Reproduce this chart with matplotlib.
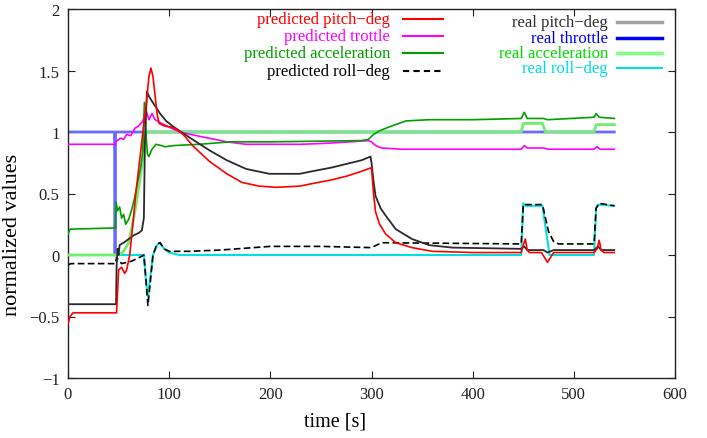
import matplotlib
matplotlib.use('Agg')
import matplotlib.pyplot as plt
from matplotlib.lines import Line2D

plt.rcParams['font.family'] = ['Liberation Serif', 'DejaVu Serif']

# (time [s], normalized value) pairs
pred_pitch = [(0, -0.56), (2, -0.5), (5, -0.47), (48, -0.47), (49, -0.3), (50, -0.12), (53, -0.1),
              (56, -0.15), (58, -0.12), (61, 0.0), (64, 0.24), (67, 0.5), (71, 0.78), (74, 1.0),
              (77, 1.2), (80, 1.45), (82, 1.52), (84, 1.45), (86, 1.3), (88, 1.15), (90, 1.07),
              (95, 1.05), (102, 1.04), (108, 1.02), (115, 0.97), (123, 0.89), (140, 0.76),
              (157, 0.66), (172, 0.59), (189, 0.56), (206, 0.55), (229, 0.56), (241, 0.58),
              (260, 0.61), (275, 0.64), (290, 0.68), (300, 0.71), (302, 0.5), (304, 0.35),
              (308, 0.25), (314, 0.17), (324, 0.1), (340, 0.06), (360, 0.03), (400, 0.02),
              (448, 0.02), (450, 0.08), (452, 0.13), (454, 0.04), (456, 0.02), (468, 0.02),
              (471, -0.02), (474, -0.06), (477, -0.02), (480, 0.02), (520, 0.02), (523, 0.05),
              (525, 0.12), (527, 0.04), (530, 0.02), (540, 0.02)]
pred_throttle = [(0, 0.9), (46.5, 0.9), (47, 0.92), (52, 0.95), (55, 0.94), (58, 0.98), (62, 0.97),
                 (66, 1.03), (70, 1.05), (74, 1.09), (77, 1.18), (80, 1.1), (83, 1.15), (86, 1.1),
                 (90, 1.08), (100, 1.04), (110, 1.0), (133, 0.96), (157, 0.92), (176, 0.9),
                 (230, 0.9), (260, 0.91), (297, 0.93), (300, 0.92), (304, 0.89), (310, 0.87),
                 (330, 0.86), (448, 0.86), (451, 0.89), (454, 0.87), (470, 0.87), (475, 0.86),
                 (520, 0.86), (523, 0.88), (526, 0.86), (540, 0.86)]
pred_accel = [(0, 0.17), (2, 0.21), (47, 0.22), (47.5, 0.43), (49, 0.36), (51, 0.39), (53, 0.3),
              (55, 0.33), (57, 0.25), (60, 0.29), (63, 0.37), (66, 0.47), (69, 0.6), (72, 0.72),
              (74, 0.85), (75.5, 1.24), (77, 1.0), (78.5, 0.82), (80, 0.8), (83, 0.86), (87, 0.9),
              (92, 0.89), (96, 0.88), (105, 0.89), (130, 0.9), (160, 0.92), (200, 0.92),
              (290, 0.93), (297, 0.94), (302, 0.98), (308, 1.01), (317, 1.04), (334, 1.09),
              (357, 1.1), (400, 1.1), (448, 1.11), (451, 1.16), (454, 1.11), (470, 1.11),
              (474, 1.1), (520, 1.12), (522, 1.15), (525, 1.12), (540, 1.11)]
pred_roll = [(0, -0.08), (3, -0.07), (47, -0.07), (48, -0.02), (50, -0.04), (53, -0.07), (58, -0.06),
             (63, -0.05), (68, -0.03), (73, -0.01), (75, 0.0), (77, -0.2), (79, -0.41), (81, -0.25),
             (84, 0.0), (88, 0.09), (91, 0.1), (95, 0.05), (100, 0.03), (120, 0.03), (150, 0.04),
             (200, 0.07), (250, 0.07), (300, 0.06), (305, 0.08), (310, 0.1), (448, 0.09),
             (450, 0.41), (469, 0.41), (472, 0.3), (475, 0.19), (480, 0.11), (485, 0.09),
             (520, 0.09), (522, 0.38), (525, 0.42), (540, 0.4)]
real_pitch = [(0, -0.4), (47.5, -0.4), (48, -0.1), (49, 0.05), (50, 0.0), (51, 0.08), (55, 0.1),
              (60, 0.13), (65, 0.16), (70, 0.18), (73, 0.2), (75, 0.3), (76, 0.9), (78, 1.33),
              (80, 1.29), (83, 1.25), (87, 1.2), (91, 1.15), (97, 1.09), (103, 1.05), (110, 1.01),
              (123, 0.94), (140, 0.85), (157, 0.77), (176, 0.7), (199, 0.66), (229, 0.66),
              (241, 0.68), (260, 0.71), (275, 0.74), (290, 0.77), (299, 0.8), (300, 0.75),
              (302, 0.6), (304, 0.48), (309, 0.38), (314, 0.32), (324, 0.21), (340, 0.13),
              (357, 0.08), (380, 0.06), (448, 0.05), (451, 0.07), (454, 0.04), (470, 0.04),
              (474, 0.02), (480, 0.04), (520, 0.04), (524, 0.07), (527, 0.04), (540, 0.04)]
real_throttle = [(0, 1.0), (46, 1.0), (46.5, 0.0), (47, 1.0), (540, 1.0)]
real_accel = [(0, 0.0), (50, 0.0), (55, 0.03), (60, 0.1), (65, 0.3), (70, 0.55), (73, 0.72),
              (75, 0.9), (76, 1.0), (448, 1.0), (450, 1.07), (469, 1.07), (472, 1.0), (520, 1.0),
              (522, 1.06), (540, 1.06)]
real_roll = [(0, 0.0), (75, 0.0), (77, -0.2), (79, -0.34), (81, -0.2), (84, 0.0), (88, 0.08),
             (91, 0.1), (95, 0.05), (100, 0.02), (110, 0.0), (448, 0.0), (450, 0.42), (452, 0.4),
             (469, 0.4), (476, 0.0), (520, 0.0), (522, 0.38), (524, 0.41), (540, 0.4)]

x_ticks = [0, 100, 200, 300, 400, 500, 600]
y_ticks = [-1, -0.5, 0, 0.5, 1, 1.5, 2]
y_tick_labels = ['\u22121', '\u22120.5', '0', '0.5', '1', '1.5', '2']

# label, data, line colour, text colour, width, dashed, zorder
left_series = [
    ('predicted pitch\u2212deg', pred_pitch, '#ff0000', '#ff0000', 1.2, False, 6),
    ('predicted trottle', pred_throttle, '#ff00ff', '#ff00ff', 1.2, False, 4),
    ('predicted acceleration', pred_accel, '#00a000', '#00a000', 1.2, False, 4),
    ('predicted roll\u2212deg', pred_roll, '#000000', '#000000', 1.2, True, 5),
]
right_series = [
    ('real pitch\u2212deg', real_pitch, '#2a2a2a', '#303030', 1.3, False, 5),
    ('real throttle', real_throttle, '#6a6aff', '#0000ff', 2.0, False, 2),
    ('real acceleration', real_accel, '#70ee70', '#00dd00', 2.0, False, 3.5),
    ('real roll\u2212deg', real_roll, '#00e0e0', '#00dddd', 1.5, False, 3),
]
# gnuplot-style key: colour of the sample line in the key
key_line_colour = {'real pitch\u2212deg': '#a0a0a0', 'real throttle': '#0000ff',
                   'real acceleration': '#80ff80'}

fig = plt.figure(figsize=(7.07, 4.39), dpi=100)
ax = fig.add_axes([68 / 707, 60 / 439, 607 / 707, 369 / 439])

for label, data, color, tcolor, lw, dashed, z in left_series + right_series:
    t, v = zip(*data)
    line, = ax.plot(t, v, color=color, lw=lw, zorder=z)
    if dashed:
        line.set_dashes((4, 2))

ax.set_xlim(0, 600)
ax.set_ylim(-1, 2)
ax.set_xticks(x_ticks)
ax.set_yticks(y_ticks)
ax.set_yticklabels(y_tick_labels)
ax.tick_params(direction='in', length=5, width=0.8, top=True, right=True,
               labelsize=12, pad=6, colors='#222222')
for sp in ax.spines.values():
    sp.set_linewidth(1.0)
    sp.set_color('#222222')

ax.set_xlabel('time [s]', fontsize=14.5)
ax.xaxis.set_label_coords(0.44, -0.09)
ax.set_ylabel('normalized values', fontsize=16)
ax.yaxis.set_label_coords(-0.075, 0.39)


def draw_key(series, text_right, line_x0, line_x1, rows):
    for (label, data, color, tcolor, lw, dashed, z), y in zip(series, rows):
        fy = 1 - y / 439
        fig.text(text_right / 707, fy, label, color=tcolor, ha='right', va='center', fontsize=12)
        kl = Line2D([line_x0 / 707, line_x1 / 707], [fy, fy], transform=fig.transFigure,
                    color=key_line_colour.get(label, color), lw=2.5 if label in key_line_colour else 1.5)
        if dashed:
            kl.set_dashes((3, 2))
        fig.add_artist(kl)


draw_key(left_series, 390, 403, 443, [20, 37, 54, 72])
draw_key(right_series, 608, 617, 662, [23, 39, 54, 69])

fig.savefig('out.png', dpi=100)
